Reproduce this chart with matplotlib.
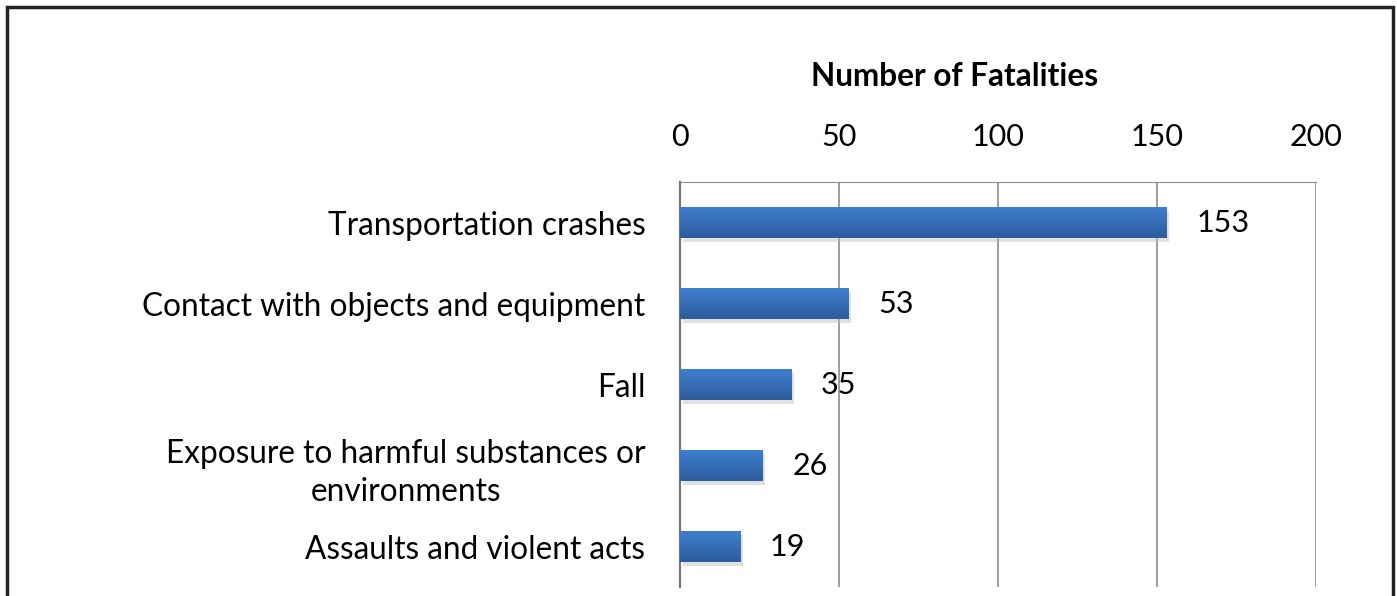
import numpy as np
import matplotlib.pyplot as plt
from matplotlib.patches import Rectangle

plt.rcParams['font.family'] = ['Lato', 'DejaVu Sans']

# data
categories = ['Transportation crashes',
              'Contact with objects and equipment',
              'Fall',
              'Exposure to harmful substances or\nenvironments',
              'Assaults and violent acts']
fatalities = [153, 53, 35, 26, 19]
x_ticks = [0, 50, 100, 150, 200]

fig = plt.figure(figsize=(13.97, 5.96), dpi=100)
ax = fig.add_axes([0.4868, 0.0151, 0.4553, 0.6795])

y = np.arange(len(categories))
bars = ax.barh(y, fatalities, height=0.38, color='#3a70bf', zorder=3)

# shaded fill on each bar (lighter top, darker bottom)
grad = np.linspace(0, 1, 64).reshape(-1, 1)
cmap = plt.matplotlib.colors.LinearSegmentedColormap.from_list('b', ['#2d5c9c', '#3f7fd0'])
for b in bars:
    x0, y0 = b.get_x(), b.get_y()
    w, h = b.get_width(), b.get_height()
    # soft shadow
    ax.add_patch(Rectangle((x0 + 0.8, y0 + 0.05), w, h, color='#bbbbbb', alpha=0.45, zorder=2, lw=0))
    im = ax.imshow(grad, extent=(x0, x0 + w, y0, y0 + h), cmap=cmap, aspect='auto', zorder=4)
    im.set_clip_path(b)

for yi, v in zip(y, fatalities):
    ax.text(v + 9.3, yi, str(v), va='center', ha='left', fontsize=22, zorder=5)

ax.set_xlim(0, 200)
ax.set_ylim(4.5, -0.5)
ax.set_xticks(x_ticks)
ax.xaxis.tick_top()
ax.tick_params(axis='x', length=0, pad=22, labelsize=22)
ax.set_yticks(y)
ax.set_yticklabels(categories, multialignment='center', linespacing=1.35)
ax.tick_params(axis='y', length=0, pad=25, labelsize=22.7)
ax.grid(axis='x', color='#8c8c8c', linewidth=1.2, zorder=0)

for s in ['bottom', 'right']:
    ax.spines[s].set_visible(False)
ax.spines['top'].set_color('#8c8c8c')
ax.spines['left'].set_color('#777777')
ax.spines['left'].set_linewidth(1.6)

fig.text(955 / 1397, 1 - 76 / 596, 'Number of Fatalities', ha='center', va='center',
         fontsize=22.7, fontweight='bold')

# outer frame, cut at bottom
fig.patches.append(Rectangle((7 / 1397, -0.05), 1386 / 1397, 1.05 - 7 / 596,
                             transform=fig.transFigure, fill=False,
                             edgecolor='#222222', linewidth=2.5))

fig.savefig('out.png', dpi=100)
